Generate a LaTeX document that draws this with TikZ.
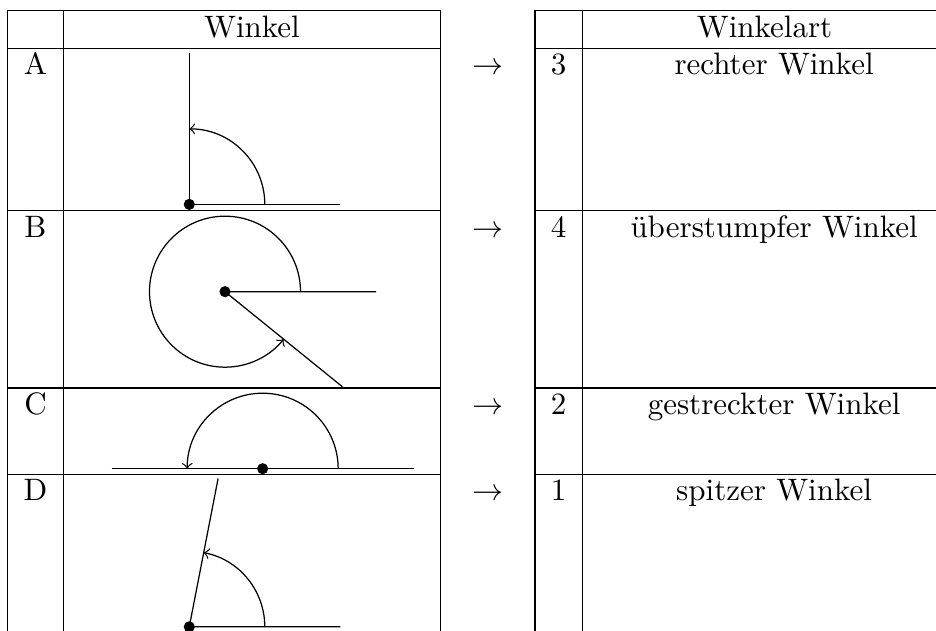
\documentclass[tikz,border=0pt]{standalone}
\usepackage{tikz}
\begin{document}
\begin{tikzpicture}[cell/.style={anchor=base,inner sep=0pt}]
      \clip (0,0) rectangle (10.612,7.143);
      %tabelle
      \draw (0.087,-0.5) -- (0.087,7.024) -- (4.997,7.024) -- (4.997,-0.5);
      \draw (0.718,7.024) -- (0.718,-0.5);
      \draw (0.087,6.591) -- (4.997,6.591);
      \draw (0.087,4.756) -- (4.997,4.756);
      \draw (0.087,2.744) -- (4.997,2.744);
      \draw (0.087,1.765) -- (4.997,1.765);
      \draw (6.066,-0.5) -- (6.066,7.024) -- (11,7.024);
      \draw (6.602,7.024) -- (6.602,-0.5);
      \draw (6.066,6.591) -- (11,6.591);
      \draw (6.066,4.756) -- (11,4.756);
      \draw (6.066,2.744) -- (11,2.744);
      \draw (6.066,1.765) -- (11,1.765);
      %texte
      \node[cell] (hw) at (2.857,6.72) {Winkel};
      \node[cell] (ha) at (8.668,6.72) {Winkelart};
      \node[cell] (la) at (0.402,6.293) {A};
      \node[cell] (lb) at (0.402,4.447) {B};
      \node[cell] (lc) at (0.402,2.443) {C};
      \node[cell] (ld) at (0.402,1.463) {D};
      \node[cell] (pa) at (5.527,6.293) {$\rightarrow$};
      \node[cell] (pb) at (5.527,4.447) {$\rightarrow$};
      \node[cell] (pc) at (5.527,2.443) {$\rightarrow$};
      \node[cell] (pd) at (5.527,1.463) {$\rightarrow$};
      \node[cell] (na) at (6.334,6.293) {3};
      \node[cell] (nb) at (6.334,4.447) {4};
      \node[cell] (nc) at (6.334,2.443) {2};
      \node[cell] (nd) at (6.334,1.463) {1};
      \node[cell] (ta) at (8.776,6.293) {rechter Winkel};
      \node[cell] (tb) at (8.776,4.447) {überstumpfer Winkel};
      \node[cell] (tc) at (8.776,2.443) {gestreckter Winkel};
      \node[cell] (td) at (8.776,1.463) {spitzer Winkel};
      %winkel
      \coordinate (sa) at (2.146,4.826);
      \coordinate (sb) at (2.551,3.836);
      \coordinate (sc) at (2.978,1.829);
      \coordinate (sd) at (2.146,0.037);
      \begin{scope}[shift={(sa)},scale=0.856]
        \draw (0,2) -- (0,0) -- (2,0);
        \draw[->] (1,0) arc[start angle=0,end angle=90,radius=1];
      \end{scope}
      \begin{scope}[shift={(sb)},scale=0.856]
        \draw (321:2) -- (0,0) -- (2,0);
        \draw[->] (1,0) arc[start angle=0,end angle=321,radius=1];
      \end{scope}
      \begin{scope}[shift={(sc)},scale=0.856]
        \draw (-2,0) -- (2,0);
        \draw[->] (1,0) arc[start angle=0,end angle=180,radius=1];
      \end{scope}
      \begin{scope}[shift={(sd)},scale=0.856]
        \draw (79:2) -- (0,0) -- (2,0);
        \draw[->] (1,0) arc[start angle=0,end angle=79,radius=1];
      \end{scope}
      \fill (sa) circle (1.8pt);
      \fill (sb) circle (1.8pt);
      \fill (sc) circle (1.8pt);
      \fill (sd) circle (1.8pt);
    \end{tikzpicture}
\end{document}
